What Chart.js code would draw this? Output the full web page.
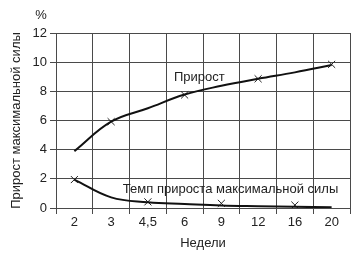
<!DOCTYPE html>
<html>
<head>
<meta charset="utf-8">
<script src="https://cdn.jsdelivr.net/npm/chart.js@4/dist/chart.umd.min.js"></script>
<style>
  html, body { margin: 0; padding: 0; background: #fff; }
  #wrap { width: 364px; height: 257px; position: relative; }
</style>
</head>
<body>
<div id="wrap"><canvas id="c" width="364" height="257"></canvas></div>
<script>
const weeks = ['2', '3', '4,5', '6', '9', '12', '16', '20'];
const gainCurve = [3.9, 5.92, 6.84, 7.78, 8.38, 8.86, 9.3, 9.8];
const gainMarks = [null, 5.92, null, 7.75, null, 8.86, null, 9.85];
const rateCurve = [1.95, 0.73, 0.4, 0.28, 0.17, 0.12, 0.08, 0.05];
const rateMarks = [1.95, null, 0.42, null, 0.32, null, 0.2, null];
const gainLabel = 'Прирост';
const rateLabel = 'Темп прироста максимальной силы';
const yTitle = 'Прирост максимальной силы';
const xTitle = 'Недели';
const yUnit = '%';

const FONT = 'Liberation Sans, Arial, sans-serif';
const INK = '#222';
const GRID = '#4a4a4a';

const labelPlugin = {
  id: 'labels',
  afterDatasetsDraw(chart) {
    const ctx = chart.ctx;
    const xs = chart.scales.x, ys = chart.scales.y;
    ctx.save();
    ctx.fillStyle = INK;
    ctx.font = '13px ' + FONT;
    ctx.textAlign = 'center';
    ctx.textBaseline = 'middle';
    ctx.fillText(gainLabel, xs.getPixelForValue(3.4), ys.getPixelForValue(8.98));
    ctx.fillText(rateLabel, xs.getPixelForValue(4.25), ys.getPixelForValue(1.3));
    ctx.fillText(yUnit, chart.chartArea.left - 15, chart.chartArea.top - 18);
    ctx.restore();
  }
};

new Chart(document.getElementById('c'), {
  type: 'line',
  data: {
    labels: weeks,
    datasets: [
      { data: gainCurve, borderColor: '#111', borderWidth: 2, pointRadius: 0, tension: 0.4, fill: false },
      { data: gainMarks, showLine: false, pointStyle: 'crossRot', pointRadius: 5, pointBorderColor: '#222', pointBorderWidth: 1, borderColor: '#222' },
      { data: rateCurve, borderColor: '#111', borderWidth: 2, pointRadius: 0, tension: 0.4, fill: false },
      { data: rateMarks, showLine: false, pointStyle: 'crossRot', pointRadius: 5, pointBorderColor: '#222', pointBorderWidth: 1, borderColor: '#222' }
    ]
  },
  options: {
    responsive: false,
    animation: false,
    devicePixelRatio: 1,
    layout: { padding: { left: 0, right: 14, top: 33, bottom: 0 } },
    plugins: { legend: { display: false }, tooltip: { enabled: false } },
    scales: {
      x: {
        offset: true,
        grid: { offset: true, color: GRID, lineWidth: 1, tickLength: 6, drawTicks: true },
        border: { display: true, color: GRID, width: 1 },
        ticks: { color: INK, font: { family: FONT, size: 13 }, padding: 1, maxRotation: 0, autoSkip: false },
        title: { display: true, text: xTitle, color: INK, font: { family: FONT, size: 13 }, padding: { top: 0, bottom: 6 } },
        afterFit(s) { s.height = 49; }
      },
      y: {
        min: 0, max: 12,
        ticks: { stepSize: 2, color: INK, font: { family: FONT, size: 13 }, padding: 3 },
        grid: { color: GRID, lineWidth: 1, tickLength: 6, drawTicks: true },
        border: { display: true, color: GRID, width: 1 },
        title: { display: true, text: yTitle, color: INK, font: { family: FONT, size: 13 }, padding: { top: 9, bottom: 0 } },
        afterFit(s) { s.width = 56; }
      }
    }
  },
  plugins: [labelPlugin]
});
</script>
</body>
</html>
